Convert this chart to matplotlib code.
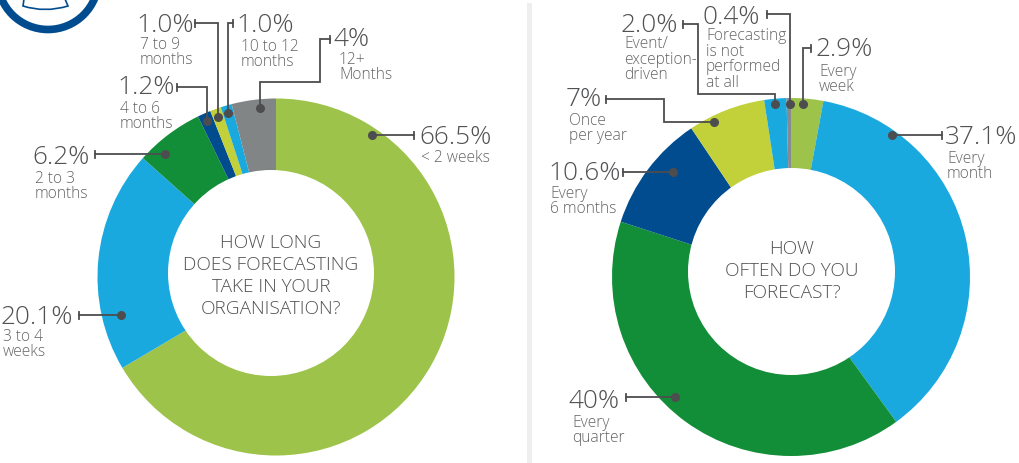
import matplotlib
matplotlib.use("Agg")
import matplotlib.pyplot as plt
from matplotlib.patches import Circle, PathPatch, Rectangle
from matplotlib.path import Path

plt.rcParams["font.family"] = "Open Sans"
plt.rcParams["font.weight"] = "light"

TEXT = "#505153"
SUB = "#626365"
LINE = "#4d4d4f"

# left donut, clockwise from the top
long_values = [66.5, 20.1, 6.2, 1.2, 1.0, 1.0, 4]
long_pct = ["66.5%", "20.1%", "6.2%", "1.2%", "1.0%", "1.0%", "4%"]
long_names = ["< 2 weeks", "3 to 4\nweeks", "2 to 3\nmonths", "4 to 6\nmonths",
              "7 to 9\nmonths", "10 to 12\nmonths", "12+\nMonths"]
long_colors = ["#9dc34a", "#1aa9df", "#138e38", "#004c8f", "#c2d03a", "#1aa9df", "#818586"]

# right donut, clockwise from the top
often_values = [2.9, 37.1, 40, 10.6, 7, 2.0, 0.4]
often_pct = ["2.9%", "37.1%", "40%", "10.6%", "7%", "2.0%", "0.4%"]
often_names = ["Every\nweek", "Every\nmonth", "Every\nquarter", "Every\n6 months",
               "Once\nper year", "Event/\nexception-\ndriven", "Forecasting\nis not\nperformed\nat all"]
often_colors = ["#9dc34a", "#1aa9df", "#138e38", "#004c8f", "#c2d03a", "#1aa9df", "#878b8e"]

# layout in pixels: leader path from dot to end tick, pct text (x, y), name text (x, y)
long_layout = [
    ([(372, 135), (414, 135)], (419, 135), (421, 157)),
    ([(121, 315), (79, 315)], (0, 315), (3, 343)),
    ([(165, 154), (95, 154)], (32, 156), (35, 185)),
    ([(207, 121), (207, 87), (177, 87)], (117, 86), (120, 115)),
    ([(218, 117), (218, 23), (195, 23)], (136, 24), (140, 51)),
    ([(228, 113), (228, 23), (233, 23)], (236, 24), (241, 53)),
    ([(260, 108), (260, 82), (320, 82), (320, 39), (330, 39)], (333, 37), (339, 66)),
]
often_layout = [
    ([(803, 104), (803, 48), (811, 48)], (816, 48), (819, 78)),
    ([(892, 135), (942, 135)], (945, 135), (947, 165)),
    ([(675, 397), (626, 397)], (568, 399), (572, 429)),
    ([(673, 172), (623, 172)], (548, 172), (550, 200)),
    ([(714, 122), (664, 122), (664, 99), (606, 99)], (566, 98), (569, 127)),
    ([(775, 104), (775, 94), (698, 94), (698, 24), (683, 24)], (621, 23), (624, 58)),
    ([(790, 104), (790, 14), (767, 14)], (703, 15), (706, 58)),
]


def draw_donut(ax, values, colors, center, radius, hole_xy, hole_r, title, title_xy):
    # y axis is inverted, so counterclock here reads clockwise on screen
    ax.pie(values, colors=colors, center=center, radius=radius, startangle=-90,
           counterclock=True, wedgeprops=dict(linewidth=0))
    # the hole sits a little off centre in the original
    ax.add_patch(Circle(hole_xy, hole_r, facecolor="white", edgecolor="none", zorder=3))
    ax.text(title_xy[0], title_xy[1], title, ha="center", va="center", fontsize=13.7,
            color=TEXT, linespacing=1.28, zorder=4)


def draw_labels(ax, pct, names, layout):
    for p, n, (path, pct_xy, name_xy) in zip(pct, names, layout):
        xs = [q[0] for q in path]
        ys = [q[1] for q in path]
        ax.plot(xs, ys, color=LINE, linewidth=1.3, solid_joinstyle="miter", zorder=4)
        ax.plot(xs[0], ys[0], "o", color=LINE, markersize=5.5, zorder=5)
        # small end tick across the leader
        if ys[-1] == ys[-2]:
            ax.plot([xs[-1], xs[-1]], [ys[-1] - 3.5, ys[-1] + 3.5], color=LINE, linewidth=1.3, zorder=4)
        else:
            ax.plot([xs[-1] - 3.5, xs[-1] + 3.5], [ys[-1], ys[-1]], color=LINE, linewidth=1.3, zorder=4)
        ax.text(pct_xy[0], pct_xy[1] + 2, p, fontsize=18.8, color=TEXT, ha="left", va="center")
        ax.text(name_xy[0], name_xy[1] + 1.5, n, fontsize=11.2, color=SUB, ha="left", va="center", linespacing=0.98)


fig = plt.figure(figsize=(10.2, 4.63), dpi=100)
ax = fig.add_axes([0, 0, 1, 1])

draw_donut(ax, long_values, long_colors, (276, 277), 178.5, (271, 273), 103,
           "HOW LONG\nDOES FORECASTING\nTAKE IN YOUR\nORGANISATION?", (271, 276))
draw_donut(ax, often_values, often_colors, (791, 277), 179, (791.5, 271.5), 103.5,
           "HOW\nOFTEN DO YOU\nFORECAST?", (792, 271))
draw_labels(ax, long_pct, long_names, long_layout)
draw_labels(ax, often_pct, often_names, often_layout)

# divider between the two charts
ax.add_patch(Rectangle((527, 3), 5, 460, facecolor="#eeeeee", edgecolor="none"))

# bit of logo cut off in the corner
ax.add_patch(Circle((48, -21), 50.5, facecolor="none", edgecolor="#004c8f", linewidth=5.5))
cup = Path([(24, -1), (23, 6), (45, 13), (68, 6), (65, -1)],
           [Path.MOVETO, Path.LINETO, Path.CURVE3, Path.CURVE3, Path.LINETO])
ax.add_patch(PathPatch(cup, facecolor="none", edgecolor="#004c8f", linewidth=1.2))

ax.set_xlim(0, 1020)
ax.set_ylim(463, 0)
ax.set_aspect("auto")
ax.axis("off")

fig.savefig("out.png", dpi=100)
